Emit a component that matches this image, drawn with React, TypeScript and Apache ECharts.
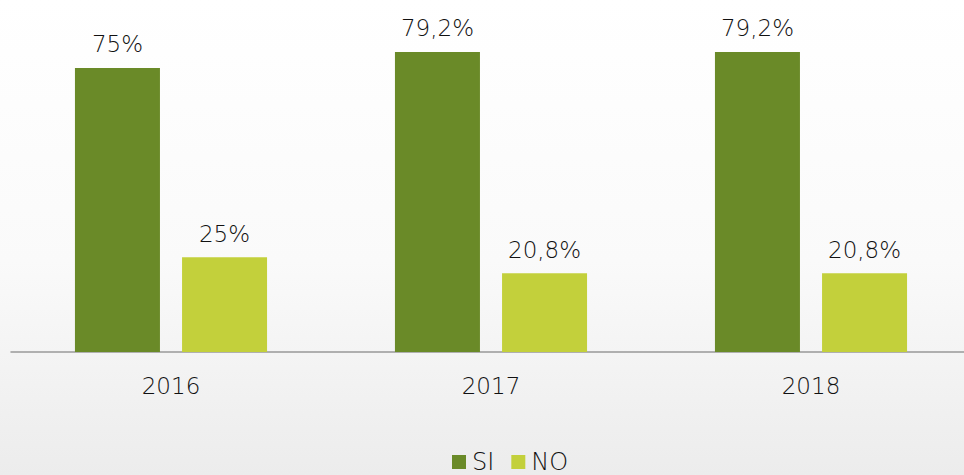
import React, { useEffect, useRef } from "react";
import * as echarts from "echarts";

const categories = ["2016", "2017", "2018"];
const siValues = [75, 79.2, 79.2];
const noValues = [25, 20.8, 20.8];
const seriesNames = ["SI", "NO"];

const fmt = (v: number) => String(v).replace(".", ",") + "%";

export default function App() {
  const ref = useRef<HTMLDivElement>(null);
  useEffect(() => {
    if (!ref.current) return;
    const chart = echarts.init(ref.current, undefined, { renderer: "svg" });
    const font = "'DejaVu Sans', sans-serif";
    const labelStyle = {
      show: true,
      position: "top",
      distance: 12,
      formatter: (p: any) => fmt(p.value),
      fontFamily: font,
      fontSize: 23,
      fontWeight: 200,
      color: "#111",
    };
    chart.setOption({
      animation: false,
      backgroundColor: {
        type: "linear",
        x: 0,
        y: 0,
        x2: 0,
        y2: 1,
        colorStops: [
          { offset: 0, color: "#ffffff" },
          { offset: 0.55, color: "#fafafa" },
          { offset: 1, color: "#ececec" },
        ],
      },
      grid: { left: 11, width: 960, top: 30, height: 322, outerBoundsMode: "none", containLabel: false },
      legend: {
        top: 450,
        left: 452,
        padding: 0,
        itemWidth: 14,
        itemHeight: 14,
        itemGap: 17,
        icon: "rect",
        textStyle: { fontFamily: font, fontSize: 24, lineHeight: 22, fontWeight: 200, color: "#111", padding: [0, 0, 0, 1] },
        data: seriesNames,
      },
      xAxis: {
        type: "category",
        data: categories,
        axisLine: { lineStyle: { color: "#999", width: 1.5 } },
        axisTick: { show: false },
        axisLabel: { fontFamily: font, fontSize: 23, fontWeight: 200, color: "#111", margin: 22 },
      },
      yAxis: {
        type: "value",
        min: 0,
        max: 85,
        show: false,
        splitLine: { show: false },
      },
      series: [
        {
          name: seriesNames[0],
          type: "bar",
          data: siValues,
          barWidth: 85,
          barGap: "26%",
          itemStyle: { color: "#6a8a28" },
          label: labelStyle,
        },
        {
          name: seriesNames[1],
          type: "bar",
          data: noValues,
          barWidth: 85,
          barGap: "26%",
          itemStyle: { color: "#c3d03b" },
          label: labelStyle,
        },
      ],
    });
    return () => chart.dispose();
  }, []);
  return (
    <div
      ref={ref}
      style={{ position: "absolute", left: 0, top: 0, width: 964, height: 475 }}
    />
  );
}
